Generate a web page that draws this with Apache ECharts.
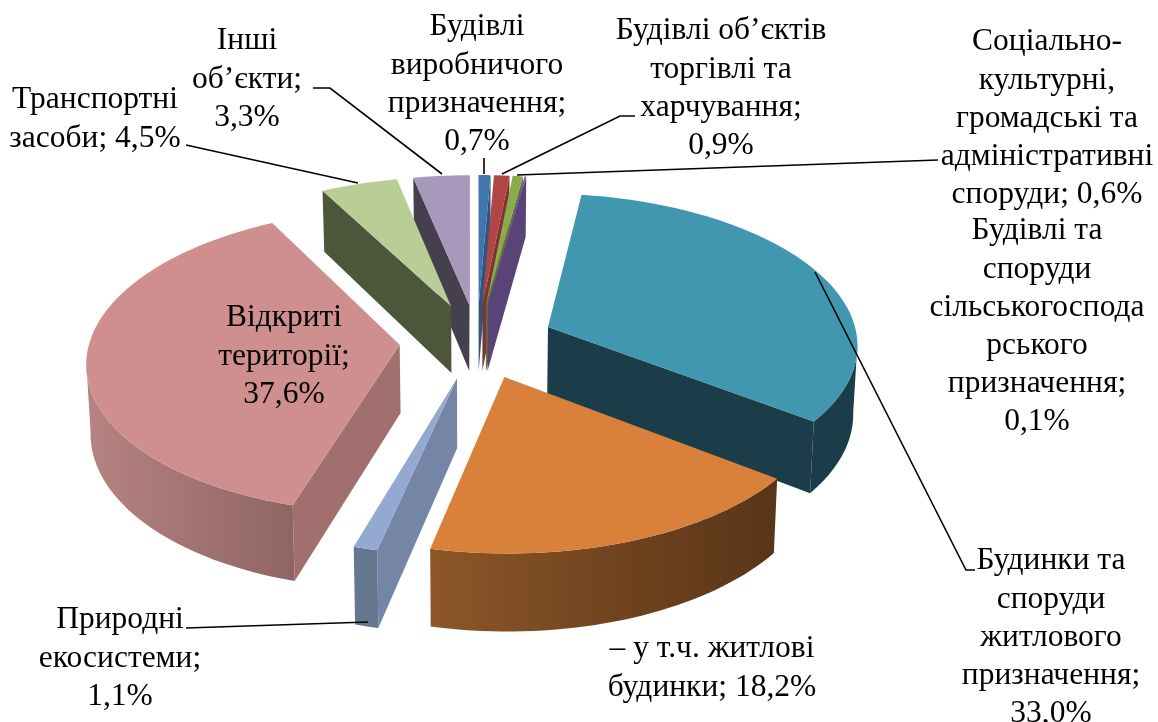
<!DOCTYPE html>
<html>
<head>
<meta charset="utf-8">
<style>html,body{margin:0;padding:0;background:#fff}#main{width:1158px;height:722px}</style>
<script src="https://cdn.jsdelivr.net/npm/echarts@6/dist/echarts.min.js"></script>
</head>
<body>
<div id="main"></div>
<script>
// data, clockwise from 12 o'clock
var sliceNames = ['Будівлі виробничого призначення', 'Будівлі об’єктів торгівлі та харчування',
  'Соціально-культурні, громадські та адміністративні споруди', 'Будівлі та споруди сільськогосподарського призначення',
  'Будинки та споруди житлового призначення', 'у т.ч. житлові будинки', 'Природні екосистеми',
  'Відкриті території', 'Транспортні засоби', 'Інші об’єкти'];
var sliceValues = [0.7, 0.9, 0.6, 0.1, 33.0, 18.2, 1.1, 37.6, 4.5, 3.3];
var topColors = ['#4175ae', '#b04543', '#8cab4f', '#73589a', '#4297b0', '#d9803b', '#94a9d0', '#cf8f8e', '#b9cd96', '#a898bc'];
var wallColors = ['#2f5680', '#813331', '#5f7536', '#5a4377', '#1b3d4a', '#5a3618', '#7485a5', '#a06f6e', '#4d553a', '#46404e'];
var sideLeft = ['#2f5680', '#813331', '#5f7536', '#5a4377', '#1b3d4a', '#8c5628', '#64778f', '#b58382', '#4d553a', '#46404e'];
var sideRight = ['#2f5680', '#813331', '#5f7536', '#5a4377', '#1b3d4a', '#583518', '#64778f', '#8f6564', '#4d553a', '#46404e'];

var labelTexts = [
  'Будівлі\nвиробничого\nпризначення;\n0,7%',
  'Будівлі об’єктів\nторгівлі та\nхарчування;\n0,9%',
  'Соціально-\nкультурні,\nгромадські та\nадміністративні\nспоруди; 0,6%',
  'Будівлі та\nспоруди\nсільськогоспода\nрського\nпризначення;\n0,1%',
  'Будинки та\nспоруди\nжитлового\nпризначення;\n33,0%',
  '– у т.ч. житлові\nбудинки; 18,2%',
  'Природні\nекосистеми;\n1,1%',
  'Відкриті\nтериторії;\n37,6%',
  'Транспортні\nзасоби; 4,5%',
  'Інші\nоб’єкти;\n3,3%'
];

// where the labels and leader lines sit
var labelPos = [[477, 8], [721, 12], [1047, 23], [1037, 212], [1051, 542], [712, 630], [120, 601], [284, 299], [95, 81], [247, 22]];
var leaders = [
  [[484, 158], [484, 174]],
  [[635, 116], [620, 116], [502, 174]],
  [[938, 160], [517, 175]],
  [[815, 272], [966, 570], [975, 570]],
  [[186, 628], [368, 622]],
  [[186, 145], [358, 183]],
  [[313, 88], [330, 88], [442, 174]]
];

// pie projection
var cx = 477, cy = 341, rA = 310, rB = 150, persp = 0.104, depth = 68, explode = 0.25, taper = 0.011;

function project(x, z, h) {
  var s = 1 / (1 + persp * z);
  return [cx + rA * x * s * (1 - taper * h), cy - rB * z * s + depth * h * s];
}
function crossZ(a, b, c, d) {
  return (b[0] - a[0]) * (d[1] - c[1]) - (b[1] - a[1]) * (d[0] - c[0]);
}
var total = sliceValues.reduce(function (a, b) { return a + b; }, 0);
var startShare = [];
sliceValues.reduce(function (sum, v, i) { startShare[i] = sum; return sum + v; }, 0);

// far slices are drawn first
var drawOrder = sliceValues.map(function (v, i) {
  var mid = (startShare[i] + v / 2) / total * 2 * Math.PI;
  return { i: i, z: Math.cos(mid) };
}).sort(function (a, b) { return b.z - a.z; });
var rankOf = [];
drawOrder.forEach(function (d, r) { rankOf[d.i] = r; });

function renderSlice(params, api) {
  var i = params.dataIndex;
  var value = api.value(0);
  var a0 = startShare[i] / total * 2 * Math.PI;
  var a1 = a0 + value / total * 2 * Math.PI;
  var mid = (a0 + a1) / 2;
  var ox = Math.sin(mid) * explode, oz = Math.cos(mid) * explode;
  var steps = Math.max(2, Math.ceil((a1 - a0) / 0.03));
  var rimTop = [], rimBot = [];
  for (var k = 0; k <= steps; k++) {
    var t = a0 + (a1 - a0) * k / steps;
    rimTop.push(project(ox + Math.sin(t), oz + Math.cos(t), 0));
    rimBot.push(project(ox + Math.sin(t), oz + Math.cos(t), 1));
  }
  var apexTop = project(ox, oz, 0), apexBot = project(ox, oz, 1);
  var midRim = rimTop[Math.floor(steps / 2)];
  var base = rankOf[i] * 10 + 1;
  var kids = [];

  function wall(rimIdx) {
    var r = rimTop[rimIdx];
    var s1 = crossZ(apexTop, r, [0, 0], [0, 1]);
    var s2 = crossZ(apexTop, r, apexTop, midRim);
    if (s1 * s2 >= 0) return;
    kids.push({
      type: 'polygon', z2: base,
      shape: { points: [apexTop, r, rimBot[rimIdx], apexBot] },
      style: { fill: wallColors[i] }
    });
  }
  wall(0);
  wall(steps);

  // outer side, only the part that faces the viewer
  var run = [];
  function flush() {
    if (run.length > 1) {
      var pts = run.map(function (n) { return rimTop[n]; })
        .concat(run.slice().reverse().map(function (n) { return rimBot[n]; }));
      kids.push({
        type: 'polygon', z2: base + 1,
        shape: { points: pts },
        style: { fill: new echarts.graphic.LinearGradient(0, 0, 1, 0, [
          { offset: 0, color: sideLeft[i] }, { offset: 1, color: sideRight[i] }
        ]) }
      });
    }
    run = [];
  }
  for (var n = 0; n < steps; n++) {
    var s1 = crossZ(rimTop[n], rimTop[n + 1], [0, 0], [0, 1]);
    var s2 = crossZ(rimTop[n], rimTop[n + 1], rimTop[n], apexTop);
    if (s1 * s2 < 0) {
      if (!run.length) run.push(n);
      run.push(n + 1);
    } else {
      flush();
    }
  }
  flush();

  kids.push({
    type: 'polygon', z2: base + 2,
    shape: { points: [apexTop].concat(rimTop) },
    style: { fill: topColors[i] }
  });
  return { type: 'group', children: kids };
}

var graphics = [];
leaders.forEach(function (pts) {
  graphics.push({
    type: 'polyline', z: 10, silent: true,
    shape: { points: pts },
    style: { stroke: '#000', lineWidth: 1.6, fill: null }
  });
});
labelTexts.forEach(function (txt, i) {
  graphics.push({
    type: 'text', z: 11, silent: true,
    x: labelPos[i][0], y: labelPos[i][1],
    style: {
      text: txt, fill: '#000', align: 'center', verticalAlign: 'top',
      font: '31.5px "Liberation Serif"', lineHeight: 38.2
    }
  });
});

var myChart = echarts.init(document.getElementById('main'));
var option = {
  animation: false,
  backgroundColor: '#fff',
  graphic: graphics,
  series: [{
    type: 'custom',
    coordinateSystem: 'none',
    silent: true,
    renderItem: renderSlice,
    data: sliceValues.map(function (v, i) { return { name: sliceNames[i], value: [v] }; })
  }]
};
myChart.setOption(option);
</script>
</body>
</html>
